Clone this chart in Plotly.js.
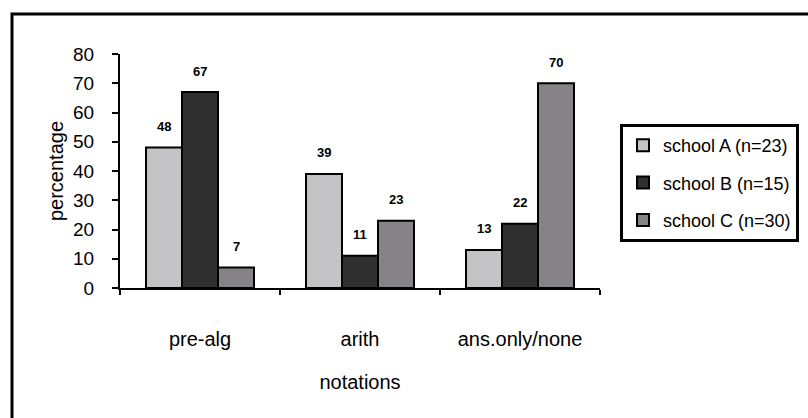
<!DOCTYPE html>
<html>
<head>
<meta charset="utf-8">
<script src="https://cdn.plot.ly/plotly-3.0.1.min.js"></script>
<style>
  html, body { margin: 0; padding: 0; background: #fff; }
  #chart { width: 808px; height: 418px; }
</style>
</head>
<body>
<div id="chart"></div>
<script>
const categories = ["pre-alg", "arith", "ans.only/none"];
const seriesNames = ["school A (n=23)", "school B (n=15)", "school C (n=30)"];
const schoolA = [48, 39, 13];
const schoolB = [67, 11, 22];
const schoolC = [7, 23, 70];
const yTicks = [0, 10, 20, 30, 40, 50, 60, 70, 80];

const seriesValues = [schoolA, schoolB, schoolC];
const colors = ["#c4c3c6", "#303030", "#858386"];
const FONT = "Liberation Sans, Arial, sans-serif";

const traces = seriesValues.map((vals, i) => ({
  type: "bar",
  name: seriesNames[i],
  x: categories,
  y: vals,
  legendgroup: "g" + i,
  marker: { color: colors[i], line: { color: "#000", width: 2 } },
  hoverinfo: "skip"
}));

// data labels above each bar, placed through the axis scales
const annotations = [];
seriesValues.forEach((vals, i) => {
  vals.forEach((v, j) => {
    annotations.push({
      x: categories[j], y: v, xref: "x", yref: "y",
      text: "<b>" + v + "</b>", showarrow: false,
      xshift: (i - 1) * 36, yshift: 21, yanchor: "middle",
      font: { family: FONT, size: 13, color: "#000" }
    });
  });
});

const layout = {
  width: 808, height: 418,
  margin: { l: 120, r: 208, t: 54, b: 130, pad: 0, autoexpand: false },
  paper_bgcolor: "#fff", plot_bgcolor: "#fff",
  barmode: "group",
  bargap: 0.325, bargroupgap: 0,
  showlegend: true,
  legend: {
    xref: "container", yref: "container",
    x: 620 / 808, xanchor: "left", y: 1 - 124 / 418, yanchor: "top",
    bgcolor: "#fff", bordercolor: "#000", borderwidth: 3,
    traceorder: "grouped", tracegroupgap: 11,
    font: { family: FONT, size: 18, color: "#000" },
    itemwidth: 30, entrywidth: 200, entrywidthmode: "pixels"
  },
  xaxis: {
    type: "category",
    showline: true, linecolor: "#000", linewidth: 2,
    ticks: "outside", tickson: "boundaries", ticklen: 5, tickwidth: 2, tickcolor: "#000",
    showgrid: false, zeroline: false,
    tickfont: { family: FONT, size: 20, color: "#000" },
    ticklabelstandoff: 32,
    title: { text: "notations", font: { family: FONT, size: 20, color: "#000" }, standoff: 26 }
  },
  yaxis: {
    range: [0, 80], tickvals: yTicks, ticktext: yTicks.map(String),
    showline: true, linecolor: "#000", linewidth: 2,
    ticks: "outside", ticklen: 6, tickwidth: 2, tickcolor: "#000",
    showgrid: false, zeroline: false,
    tickfont: { family: FONT, size: 19, color: "#000" },
    ticklabelstandoff: 14,
    title: { text: "percentage", font: { family: FONT, size: 20, color: "#000" }, standoff: 4 }
  },
  annotations: annotations,
  shapes: [{
    type: "rect", xref: "paper", yref: "paper",
    x0: (12 - 120) / 480, x1: (830 - 120) / 480,
    y0: (288 - 440) / 234, y1: (288 - 14) / 234,
    line: { color: "#000", width: 3 }, fillcolor: "rgba(0,0,0,0)", layer: "above"
  }]
};

Plotly.newPlot("chart", traces, layout, { staticPlot: true, displayModeBar: false });
</script>
</body>
</html>
